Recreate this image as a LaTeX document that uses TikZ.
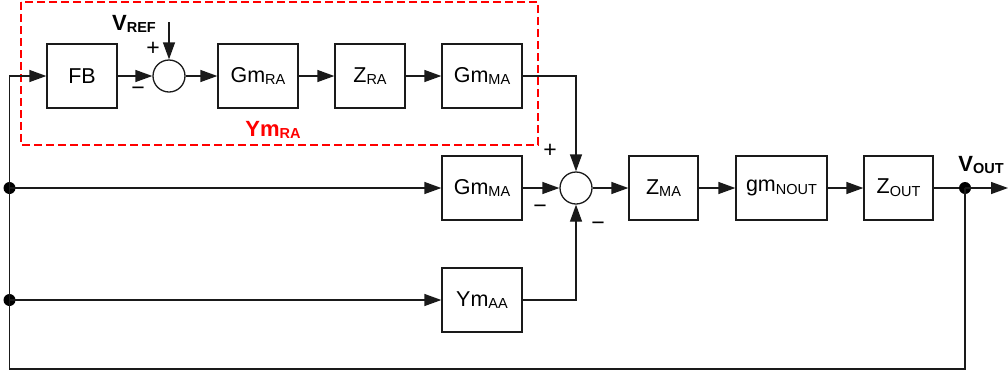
\documentclass[tikz,border=0pt]{standalone}
\usepackage{fontspec}
\setmainfont{Liberation Sans}
\usepackage{tikz}
\usetikzlibrary{arrows.meta,positioning,calc}
\definecolor{wirec}{HTML}{1A1A1A}
\definecolor{ymred}{HTML}{FF0000}
\newcommand{\lo}[1]{\raisebox{-2.8pt}{\fontsize{14.5}{14.5}\selectfont #1}}
\tikzset{
  >={Triangle[length=17pt,width=12pt]},
  % blokk
  blk/.style={rectangle,draw=wirec,line width=1.3pt,inner sep=0pt,
              minimum height=64pt,font=\fontsize{21.5}{23}\selectfont},
  sumc/.style={circle,draw=wirec,line width=1.3pt,inner sep=0pt,minimum size=32pt},
  jn/.style={circle,fill=black,inner sep=0pt,minimum size=12pt},
  wire/.style={draw=wirec,line width=1.3pt},
  sgn/.style={font=\fontsize{23}{23}\selectfont,inner sep=0pt},
  lbl/.style={font=\fontsize{22}{24}\selectfont\bfseries,inner sep=0pt},
  grp/.style={draw=ymred,line width=1.1pt,dash pattern=on 8pt off 4pt},
}
\begin{document}
\begin{tikzpicture}[x=1pt,y=-1pt]
  \useasboundingbox (0,0) rectangle (1008,376);
  % oevre raden
  \node[blk,minimum width=70pt] (fb) at (82,76) {FB};
  \node[sumc] (s1) at (169,76) {};
  \node[blk,minimum width=80pt] (gmra) at (258,76) {Gm\lo{RA}};
  \node[blk,minimum width=70pt] (zra) at (370,76) {Z\lo{RA}};
  \node[blk,minimum width=80pt] (gmma1) at (482,76) {Gm\lo{MA}};
  % mellersta raden
  \node[blk,minimum width=80pt] (gmma2) at (482,188) {Gm\lo{MA}};
  \node[sumc] (s2) at (576,188) {};
  \node[blk,minimum width=69pt] (zma) at (663.5,188) {Z\lo{MA}};
  \node[blk,minimum width=91pt] (gmnout) at (781.5,188) {gm\lo{NOUT}};
  \node[blk,minimum width=69pt] (zout) at (898.5,188) {Z\lo{OUT}};
  \node[jn] (vout) at (965,188) {};
  \coordinate (outend) at (1008,188);
  % nedre raden
  \node[blk,minimum width=80pt] (ymaa) at (482,300) {Ym\lo{AA}};
  \node[jn] (j1) at (9.5,188) {};
  \node[jn] (j2) at (9.5,300) {};
  \coordinate (vref) at (169,22);
  \coordinate (fbl) at (9.5,369);
  \coordinate (fbr) at (965,369);
  % etiketter
  \node[lbl] (vreft) at (134,24) {V\lo{REF}};
  \node[lbl] (voutt) at (981,165) {V\lo{OUT}};
  \node[lbl,text=ymred] (ymra) at (273,130) {Ym\lo{RA}};
  \node[sgn] at (153,49) {+};
  \node[sgn] at (138,91) {−};
  \node[sgn] at (550,151) {+};
  \node[sgn] at (540,209) {−};
  \node[sgn] at (598,226) {−};
  % grupp
  \draw[grp] (21,2) rectangle (538,145);
  % ledningar
  \draw[wire,->] (vref) -- (s1.north);
  \draw[wire,->] (fb) -- (s1);
  \draw[wire,->] (s1) -- (gmra);
  \draw[wire,->] (gmra) -- (zra);
  \draw[wire,->] (zra) -- (gmma1);
  \draw[wire,->] (gmma1.east) -| (s2.north);
  \draw[wire,->] (gmma2) -- (s2);
  \draw[wire,->] (ymaa.east) -| (s2.south);
  \draw[wire,->] (s2) -- (zma);
  \draw[wire,->] (zma) -- (gmnout);
  \draw[wire,->] (gmnout) -- (zout);
  \draw[wire] (zout) -- (vout);
  \draw[wire,->] (vout.center) -- (outend);
  \draw[wire,->] (vout.center) -- (fbr) -- (fbl) |- (fb.west);
  \draw[wire,->] (j1.center) -- (gmma2.west);
  \draw[wire,->] (j2.center) -- (ymaa.west);
\end{tikzpicture}
\end{document}
